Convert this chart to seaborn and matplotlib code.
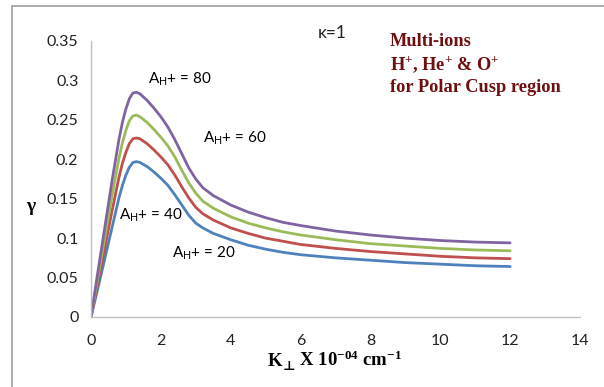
import matplotlib
matplotlib.use("Agg")
import matplotlib.pyplot as plt
import seaborn as sns
import pandas as pd
from matplotlib.lines import Line2D

k_perp = [0, 0.2, 0.4, 0.6, 0.8, 0.9, 1.0, 1.1, 1.2, 1.3, 1.4, 1.6, 1.8, 2.0, 2.2, 2.4,
          2.6, 2.8, 3.0, 3.2, 3.5, 4.0, 4.5, 5.0, 5.5, 6.0, 7.0, 8.0, 9.0, 10.0, 11.0, 12.0]
gamma_20 = [0, 0.037, 0.075, 0.113, 0.151, 0.167, 0.180, 0.190, 0.196, 0.197, 0.196,
            0.191, 0.184, 0.176, 0.167, 0.155, 0.142, 0.129, 0.119, 0.113, 0.106,
            0.098, 0.091, 0.086, 0.082, 0.079, 0.075, 0.072, 0.069, 0.067, 0.065, 0.064]
gamma_40 = [0, 0.044, 0.089, 0.134, 0.177, 0.195, 0.209, 0.220, 0.226, 0.227, 0.226,
            0.220, 0.212, 0.203, 0.193, 0.180, 0.165, 0.151, 0.139, 0.131, 0.123,
            0.113, 0.106, 0.100, 0.096, 0.092, 0.087, 0.083, 0.080, 0.077, 0.075, 0.074]
gamma_60 = [0, 0.051, 0.102, 0.153, 0.201, 0.221, 0.237, 0.249, 0.255, 0.256, 0.254,
            0.247, 0.238, 0.228, 0.217, 0.203, 0.186, 0.170, 0.157, 0.147, 0.138,
            0.127, 0.119, 0.113, 0.108, 0.104, 0.098, 0.093, 0.090, 0.087, 0.085, 0.084]
gamma_80 = [0, 0.058, 0.115, 0.172, 0.225, 0.247, 0.264, 0.277, 0.284, 0.285, 0.283,
            0.275, 0.265, 0.254, 0.241, 0.225, 0.207, 0.189, 0.175, 0.164, 0.154,
            0.142, 0.133, 0.126, 0.120, 0.116, 0.109, 0.104, 0.100, 0.097, 0.095, 0.094]
series_names = ["A20", "A40", "A60", "A80"]
series_colors = ["#4F81BD", "#C0504D", "#9BBB59", "#8064A2"]
labels = ["20", "40", "60", "80"]
x_ticks = [0, 2, 4, 6, 8, 10, 12, 14]
y_ticks = [0, 0.05, 0.1, 0.15, 0.2, 0.25, 0.3, 0.35]
y_tick_labels = ["0", "0.05", "0.1", "0.15", "0.2", "0.25", "0.3", "0.35"]

frames = []
for name, vals in zip(series_names, [gamma_20, gamma_40, gamma_60, gamma_80]):
    frames.append(pd.DataFrame({"k": k_perp, "gamma": vals, "series": name}))
df = pd.concat(frames, ignore_index=True)

sns.set_theme(style="white")
plt.rcParams["font.family"] = ["Lato", "DejaVu Sans"]
plt.rcParams["mathtext.fontset"] = "custom"
plt.rcParams["mathtext.rm"] = "Lato"
plt.rcParams["mathtext.bf"] = "Liberation Serif:bold"
plt.rcParams["mathtext.it"] = "Liberation Serif:italic"

W, H = 604, 387
fig = plt.figure(figsize=(6.04, 3.87), dpi=100)
ax = fig.add_axes([91/W, 1-317/H, (580-91)/W, (317-41)/H])

sns.lineplot(data=df, x="k", y="gamma", hue="series", hue_order=series_names,
             palette=series_colors, linewidth=2.0, legend=False, ax=ax)

ax.set_xlim(0, 14)
ax.set_ylim(0, 0.35)
ax.set_xticks(x_ticks)
ax.set_xticklabels([str(t) for t in x_ticks])
ax.set_yticks(y_ticks)
ax.set_yticklabels(y_tick_labels)
for s in ["top", "right"]:
    ax.spines[s].set_visible(False)
for s in ["left", "bottom"]:
    ax.spines[s].set_color("#BFBFBF")
    ax.spines[s].set_linewidth(1.0)
ax.tick_params(axis="both", which="major", direction="out", length=5, width=1,
               color="#BFBFBF", labelsize=11.5, labelcolor="#222222", pad=4)
ax.tick_params(axis="x", pad=7)
ax.set_xlabel("")
ax.set_ylabel("")

# x-axis label assembled from pieces so that the perpendicular sign renders
serif = ["Liberation Serif", "DejaVu Serif", "DejaVu Sans"]
pieces = [
    ("K", 13.5, 0),
    ("⊥", 9.5, -4),
    (r" X 10$^{\mathbf{-04}}$ cm$^{\mathbf{-1}}$", 13.5, 0),
]
ytxt = 366
renderer = fig.canvas.get_renderer()
objs = []
for txt, size, dy in pieces:
    t = fig.text(0, 1-(ytxt - dy)/H, txt, ha="left", va="baseline", fontsize=size,
                 family=serif, fontweight="bold", color="black")
    objs.append(t)
widths = [t.get_window_extent(renderer).width for t in objs]
total = sum(widths)
x0 = 335 - total/2
for t, w in zip(objs, widths):
    t.set_x(x0/W)
    x0 += w

fig.text(31/W, 1-207/H, "γ", ha="center", va="center", fontsize=14,
         family=["Liberation Serif", "DejaVu Serif"], fontweight="bold", color="black")

ann_pos = [(2.32, 0.081), (0.80, 0.129), (3.21, 0.227), (1.63, 0.301)]
for lab, (xx, yy) in zip(labels, ann_pos):
    ax.text(xx, yy, r"A$_\mathrm{H}$+ = " + lab, ha="left", va="center",
            fontsize=11, color="black")

fig.text(318/W, 1-33/H, "κ=1", ha="left", va="center", fontsize=12.5, color="#222222")
red = "#6E1010"
red_lines = ["Multi-ions", r"H$^{\mathbf{+}}$, He$^{\mathbf{+}}$ & O$^{\mathbf{+}}$",
             "for Polar Cusp region"]
for i, t in enumerate(red_lines):
    fig.text(390/W, 1-(42 + 22.5*i)/H, t, ha="left", va="center", fontsize=13.2,
             family=["Liberation Serif", "DejaVu Serif"], fontweight="bold", color=red)

fig.add_artist(Line2D([12/W, 12/W], [0, 1-6/H], transform=fig.transFigure,
                      color="#A0A0A0", linewidth=1.2))
fig.add_artist(Line2D([12/W, 1], [1-6/H, 1-6/H], transform=fig.transFigure,
                      color="#A0A0A0", linewidth=1.2))

fig.savefig("out.png", dpi=100)
